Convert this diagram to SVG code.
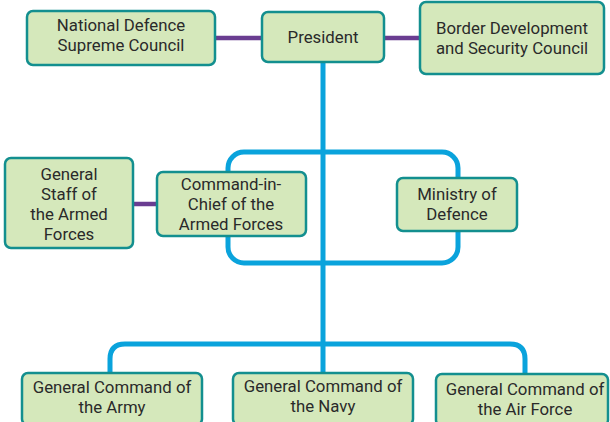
<svg xmlns="http://www.w3.org/2000/svg" width="610" height="422" viewBox="0 0 610 422">
  <style>
    .box { fill: #d5e8bb; stroke: #138f8f; stroke-width: 2.5; }
    .t { font-family: Roboto, "Liberation Sans", sans-serif; font-size: 16.8px; fill: #2a2a2a; text-anchor: middle; }
    .blue { fill: none; stroke: #0aa3dc; stroke-width: 5; }
    .purple { fill: none; stroke: #6a3d91; stroke-width: 4.5; }
  </style>
  <rect width="610" height="422" fill="#ffffff"/>

  <g id="connectors">
    <line class="purple" x1="214" y1="38" x2="263" y2="38"/>
    <line class="purple" x1="383" y1="38" x2="421" y2="38"/>
    <line class="purple" x1="132" y1="204" x2="158" y2="204"/>
    <rect class="blue" x="228" y="152" width="230" height="111" rx="16"/>
    <line class="blue" x1="323" y1="62" x2="323" y2="374"/>
    <path class="blue" d="M110,374 V359 Q110,344 125,344 H510 Q525,344 525,359 V374"/>
  </g>

  <g id="national-defence">
    <rect class="box" x="27" y="11" width="188" height="54" rx="6"/>
    <text class="t" x="121" y="31">National Defence</text>
    <text class="t" x="121" y="51">Supreme Council</text>
  </g>
  <g id="president">
    <rect class="box" x="262" y="12" width="122" height="50" rx="6"/>
    <text class="t" x="323" y="43">President</text>
  </g>
  <g id="border-council">
    <rect class="box" x="420" y="2" width="184" height="72" rx="6"/>
    <text class="t" x="512" y="34">Border Development</text>
    <text class="t" x="512" y="54">and Security Council</text>
  </g>
  <g id="general-staff">
    <rect class="box" x="5" y="158" width="128" height="90" rx="6"/>
    <text class="t" x="69" y="180">General</text>
    <text class="t" x="69" y="200">Staff of</text>
    <text class="t" x="69" y="220">the Armed</text>
    <text class="t" x="69" y="240">Forces</text>
  </g>
  <g id="commander-in-chief">
    <rect class="box" x="157" y="172" width="149" height="64" rx="6"/>
    <text class="t" x="231" y="190">Command-in-</text>
    <text class="t" x="231" y="210">Chief of the</text>
    <text class="t" x="231" y="230">Armed Forces</text>
  </g>
  <g id="ministry">
    <rect class="box" x="397" y="178" width="120" height="53" rx="6"/>
    <text class="t" x="457" y="200">Ministry of</text>
    <text class="t" x="457" y="220">Defence</text>
  </g>
  <g id="army">
    <rect class="box" x="22" y="373" width="180" height="52" rx="6"/>
    <text class="t" x="112" y="393">General Command of</text>
    <text class="t" x="112" y="413">the Army</text>
  </g>
  <g id="navy">
    <rect class="box" x="233" y="373" width="180" height="52" rx="6"/>
    <text class="t" x="323" y="392">General Command of</text>
    <text class="t" x="323" y="412">the Navy</text>
  </g>
  <g id="air-force">
    <rect class="box" x="436" y="374" width="172" height="52" rx="6"/>
    <text class="t" x="525" y="395">General Command of</text>
    <text class="t" x="525" y="415">the Air Force</text>
  </g>
</svg>
